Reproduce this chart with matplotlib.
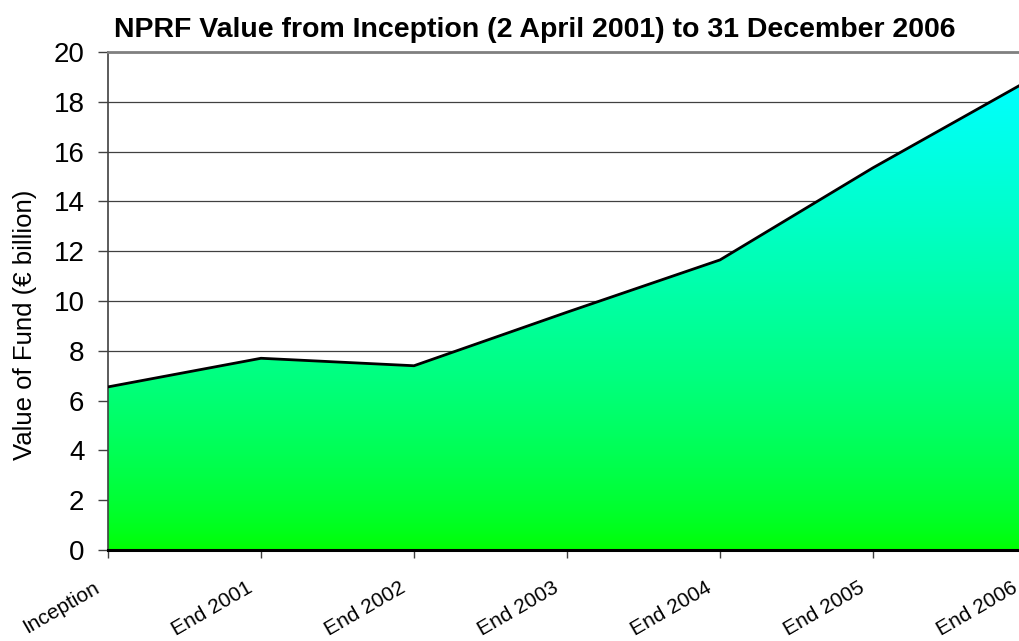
import numpy as np
import matplotlib
matplotlib.use('Agg')
import matplotlib.pyplot as plt
import matplotlib.transforms as mtransforms
from matplotlib.colors import LinearSegmentedColormap
from matplotlib.patches import Polygon

plt.rcParams['font.family'] = ['Liberation Sans', 'DejaVu Sans']

# data (EUR billion)
labels = ['Inception', 'End 2001', 'End 2002', 'End 2003', 'End 2004', 'End 2005', 'End 2006']
values = [6.55, 7.7, 7.4, 9.55, 11.65, 15.35, 18.8]

fig = plt.figure(figsize=(10.19, 6.41), dpi=100)
# axes runs a bit past the right edge, like the original
ax = fig.add_axes([108 / 1019, 1 - 550 / 641, 918 / 1019, 498 / 641])

x = np.arange(len(values))
ax.set_xlim(0, len(values) - 1)
ax.set_ylim(0, 20)

# gradient fill: green at the bottom to cyan at the top of the area
cmap = LinearSegmentedColormap.from_list('gc', ['#00ff00', '#00ffff'])
grad = (np.linspace(0, 1, 256) ** 0.7).reshape(-1, 1)
img = ax.imshow(grad, cmap=cmap, aspect='auto', origin='lower',
                extent=[0, len(values) - 1, 0, max(values)], zorder=2)
verts = [(0, 0)] + list(zip(x, values)) + [(len(values) - 1, 0)]
poly = Polygon(verts, closed=True, facecolor='none', edgecolor='none')
ax.add_patch(poly)
img.set_clip_path(poly)
ax.plot(x, values, color='black', lw=2, zorder=3)

ax.set_yticks(np.arange(0, 21, 2))
ax.yaxis.grid(True, color='#404040', lw=0.9)
ax.set_axisbelow(True)
ax.tick_params(axis='y', labelsize=20, length=7, width=1, color='#404040', pad=10)
ax.set_xticks(x)
ax.set_xticklabels(labels, rotation=30, ha='right', va='top', rotation_mode='anchor', fontsize=15)
ax.tick_params(axis='x', length=6, width=1, color='#404040', pad=14)
shift = mtransforms.ScaledTranslation(-15 / 100, 0, fig.dpi_scale_trans)
for lab in ax.get_xticklabels():
    lab.set_transform(lab.get_transform() + shift)

ax.spines['right'].set_visible(False)
ax.spines['top'].set_color('#808080')
ax.spines['top'].set_linewidth(2)
ax.spines['left'].set_color('#404040')
ax.spines['left'].set_linewidth(1.2)
ax.spines['bottom'].set_color('black')
ax.spines['bottom'].set_linewidth(2.2)
ax.spines['bottom'].set_zorder(4)

ax.set_ylabel('Value of Fund (€ billion)', fontsize=18.5)
ax.yaxis.set_label_coords(-0.077, 0.452)
fig.text(535 / 1019, 1 - 30 / 641, 'NPRF Value from Inception (2 April 2001) to 31 December 2006',
         ha='center', va='center', fontsize=20.5, fontweight='bold')

plt.savefig('out.png', dpi=100)
plt.close()
